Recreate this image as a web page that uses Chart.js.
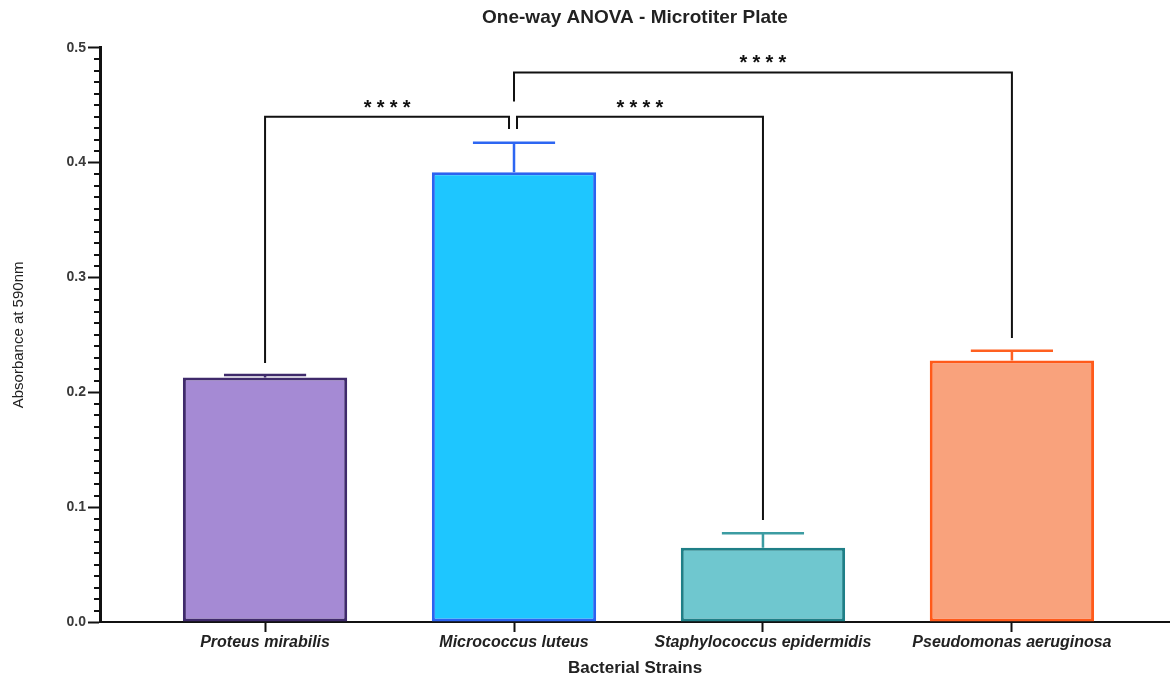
<!DOCTYPE html>
<html>
<head>
<meta charset="utf-8">
<script src="https://cdn.jsdelivr.net/npm/chart.js@4.4.1/dist/chart.umd.min.js"></script>
<style>
  html, body { margin: 0; padding: 0; background: #ffffff; }
  #wrap { width: 1170px; height: 679px; }
</style>
</head>
<body>
<div id="wrap"><canvas id="c" width="1170" height="679"></canvas></div>
<script>
// Mean absorbance (590 nm) per strain, with SD shown as an upper whisker
const strains = ['Proteus mirabilis', 'Micrococcus luteus', 'Staphylococcus epidermidis', 'Pseudomonas aeruginosa'];
const meanAbsorbance = [0.213, 0.3917, 0.0647, 0.2276];
const sdAbsorbance = [0.0020, 0.0257, 0.0126, 0.0085];
const yMajorTicks = [0.0, 0.1, 0.2, 0.3, 0.4, 0.5];
const yMinorStep = 0.01;

// Pairwise comparisons: [left strain, right strain], bracket level, leg end values, label
const comparisonPairs = [[0, 1], [1, 2], [1, 3]];
const comparisonLevels = [0.4399, 0.4399, 0.4785];
const comparisonLegEnds = [[0.2256, 0.4294], [0.4294, 0.0889], [0.4532, 0.2474]];
const comparisonLabels = ['****', '****', '****'];

const fillColors = ['#a58ad4', '#1ec6ff', '#6fc7cf', '#f9a27c'];
const borderColors = ['#3f2a6b', '#2b62f0', '#1f7f87', '#ff5a1a'];
const errorColors = ['#3f2a6b', '#2d66f2', '#3c9ca2', '#ff6020'];

const FONT = "'Liberation Sans', Arial, sans-serif";

const statsOverlay = {
  id: 'statsOverlay',
  afterDatasetsDraw(chart) {
    const { ctx, scales: { x, y } } = chart;
    const meta = chart.getDatasetMeta(0);
    ctx.save();

    // minor ticks on the value axis
    ctx.strokeStyle = '#111';
    ctx.lineWidth = 2;
    const steps = Math.round((y.max - y.min) / yMinorStep);
    for (let i = 1; i < steps; i++) {
      if (i % 10 === 0) continue;
      const py = Math.round(y.getPixelForValue(y.min + i * yMinorStep));
      ctx.beginPath();
      ctx.moveTo(x.left - 6, py);
      ctx.lineTo(x.left, py);
      ctx.stroke();
    }

    // SD whiskers
    meta.data.forEach((bar, i) => {
      const base = y.getPixelForValue(meanAbsorbance[i]);
      const top = y.getPixelForValue(meanAbsorbance[i] + sdAbsorbance[i]);
      const half = bar.width / 4;
      ctx.strokeStyle = errorColors[i];
      ctx.lineWidth = 2.5;
      ctx.beginPath();
      ctx.moveTo(bar.x, base);
      ctx.lineTo(bar.x, top);
      ctx.moveTo(bar.x - half, top);
      ctx.lineTo(bar.x + half, top);
      ctx.stroke();
    });

    // significance brackets
    ctx.strokeStyle = '#111';
    ctx.lineWidth = 2;
    ctx.fillStyle = '#111';
    ctx.font = 'bold 20px ' + FONT;
    ctx.textAlign = 'center';
    ctx.textBaseline = 'alphabetic';
    comparisonPairs.forEach((pair, k) => {
      // legs that meet at a shared bar are nudged apart
      const shareLeft = comparisonPairs.some((p, j) => j !== k && p[1] === pair[0] && comparisonLevels[j] === comparisonLevels[k]);
      const shareRight = comparisonPairs.some((p, j) => j !== k && p[0] === pair[1] && comparisonLevels[j] === comparisonLevels[k]);
      const x1 = x.getPixelForValue(pair[0]) + (shareLeft ? 3 : 0);
      const x2 = x.getPixelForValue(pair[1]) - (shareRight ? 5 : 0);
      const yl = y.getPixelForValue(comparisonLevels[k]);
      const y1 = y.getPixelForValue(comparisonLegEnds[k][0]);
      const y2 = y.getPixelForValue(comparisonLegEnds[k][1]);
      ctx.beginPath();
      ctx.moveTo(x1, y1);
      ctx.lineTo(x1, yl);
      ctx.lineTo(x2, yl);
      ctx.lineTo(x2, y2);
      ctx.stroke();
      const label = comparisonLabels[k];
      const cx = (x1 + x2) / 2;
      const gap = 13;
      for (let c = 0; c < label.length; c++) {
        ctx.fillText(label[c], cx + (c - (label.length - 1) / 2) * gap, yl - 3);
      }
    });
    ctx.restore();
  }
};

new Chart(document.getElementById('c'), {
  type: 'bar',
  data: {
    datasets: [{
      data: strains.map((s, i) => ({ x: i, y: meanAbsorbance[i] })),
      backgroundColor: fillColors,
      borderColor: borderColors,
      borderWidth: 3,
      borderSkipped: false,
      barPercentage: 1,
      categoryPercentage: 0.66
    }]
  },
  options: {
    responsive: false,
    devicePixelRatio: 1,
    animation: false,
    layout: { padding: { left: 0, right: 0, top: 0, bottom: 0 } },
    plugins: {
      legend: { display: false },
      tooltip: { enabled: false },
      title: {
        display: true,
        text: 'One-way ANOVA - Microtiter Plate',
        fullSize: false,
        color: '#222',
        font: { family: FONT, size: 19, weight: 'bold' },
        padding: { top: 6, bottom: 19 }
      }
    },
    scales: {
      x: {
        type: 'linear',
        offset: false,
        min: -0.663,
        max: 3.635,
        afterBuildTicks: (s) => { s.ticks = strains.map((_, i) => ({ value: i })); },
        afterFit: (s) => { s.height = 57; },
        ticks: {
          autoSkip: false,
          maxRotation: 0,
          padding: 1,
          color: '#222',
          font: { family: FONT, size: 16, weight: 'bold', style: 'italic' },
          callback: (v) => strains[v]
        },
        grid: { offset: false, drawOnChartArea: false, drawTicks: true, tickLength: 10, tickWidth: 2, tickColor: '#111' },
        border: { display: true, color: '#111', width: 2 },
        title: {
          display: true,
          text: 'Bacterial Strains',
          color: '#222',
          font: { family: FONT, size: 17, weight: 'bold' },
          padding: { top: 2, bottom: 0 }
        }
      },
      y: {
        min: 0,
        max: 0.5,
        afterBuildTicks: (s) => { s.ticks = yMajorTicks.map(v => ({ value: v })); },
        afterFit: (s) => { s.width = 100; },
        ticks: {
          padding: 2,
          color: '#3a3a3a',
          font: { family: FONT, size: 14, weight: 'bold' },
          callback: (v) => Number(v).toFixed(1)
        },
        grid: { drawOnChartArea: false, drawTicks: true, tickLength: 12, tickWidth: 2, tickColor: '#111' },
        border: { display: true, color: '#111', width: 3 },
        title: {
          display: true,
          text: 'Absorbance at 590nm',
          color: '#222',
          font: { family: FONT, size: 15 },
          padding: { top: 10, bottom: 0 }
        }
      }
    }
  },
  plugins: [statsOverlay]
});
</script>
</body>
</html>
